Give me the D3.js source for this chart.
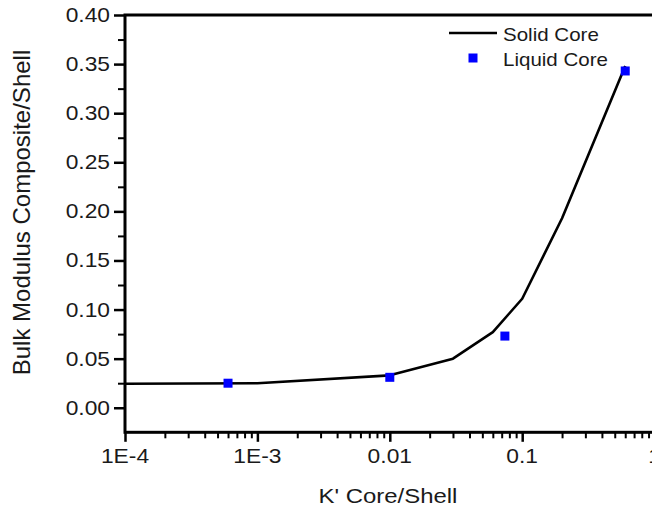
<!DOCTYPE html>
<html>
<head>
<meta charset="utf-8">
<script src="https://cdn.jsdelivr.net/npm/d3@7"></script>
<style>
  html, body { margin: 0; padding: 0; background: #fff; }
  svg { display: block; }
  text { font-family: "Liberation Sans", Arial, sans-serif; fill: #1a1a1a; }
</style>
</head>
<body>
<svg id="chart" width="652" height="510"></svg>
<script>
// Solid core: composite/shell bulk modulus vs core/shell modulus ratio
const solidK = [1e-4, 1e-3, 0.01, 0.03, 0.06, 0.1, 0.2, 0.6];
const solidBulk = [0.0245, 0.025, 0.033, 0.050, 0.077, 0.111, 0.193, 0.348];

// Liquid core points
const liquidK = [6e-4, 0.01, 0.074, 0.6];
const liquidBulk = [0.025, 0.031, 0.073, 0.343];

// Axis ticks
const xMajorTicks = [1e-4, 1e-3, 0.01, 0.1, 1];
const xTickLabels = ["1E-4", "1E-3", "0.01", "0.1", "1"];
const yMajorTicks = [0, 0.05, 0.10, 0.15, 0.20, 0.25, 0.30, 0.35, 0.40];
const yMinorTicks = [0.025, 0.075, 0.125, 0.175, 0.225, 0.275, 0.325, 0.375];

const seriesNames = ["Solid Core", "Liquid Core"];
const xTitle = "K' Core/Shell";
const yTitle = "Bulk Modulus Composite/Shell";

const svg = d3.select("#chart");
const plotLeft = 125, plotTop = 15, plotBottom = 432.3, plotRight = 654.6;

const x = d3.scaleLog().domain([1e-4, 1]).range([plotLeft, plotRight]);
const y = d3.scaleLinear().domain([-0.025, 0.40]).range([plotBottom, plotTop]);

const stretch = 1.14; // horizontal text width factor

// minor x ticks: 2..9 of each decade
const xMinorTicks = [];
for (let d = -4; d < 0; d++) {
  for (let m = 2; m <= 9; m++) xMinorTicks.push(m * Math.pow(10, d));
}

// --- X axis ---
svg.append("g").attr("transform", `translate(0,${plotBottom})`)
  .call(d3.axisBottom(x).tickValues(xMinorTicks).tickFormat("").tickSize(6).tickSizeOuter(0))
  .call(g => g.select(".domain").remove())
  .call(g => g.selectAll("line").attr("stroke", "#000").attr("stroke-width", 2));
svg.append("g").attr("transform", `translate(0,${plotBottom})`)
  .call(d3.axisBottom(x).tickValues(xMajorTicks).tickFormat("").tickSize(9.5).tickSizeOuter(0))
  .call(g => g.select(".domain").remove())
  .call(g => g.selectAll("line").attr("stroke", "#000").attr("stroke-width", 2.5));

svg.append("g").selectAll("text")
  .data(xMajorTicks)
  .join("text")
  .attr("transform", d => `translate(${x(d)},463) scale(${stretch},1)`)
  .attr("text-anchor", "middle")
  .attr("font-size", 20)
  .text((d, i) => xTickLabels[i]);

// --- Y axis ---
svg.append("g").attr("transform", `translate(${plotLeft},0)`)
  .call(d3.axisLeft(y).tickValues(yMinorTicks).tickFormat("").tickSize(7).tickSizeOuter(0))
  .call(g => g.select(".domain").remove())
  .call(g => g.selectAll("line").attr("stroke", "#000").attr("stroke-width", 2));
svg.append("g").attr("transform", `translate(${plotLeft},0)`)
  .call(d3.axisLeft(y).tickValues(yMajorTicks).tickFormat("").tickSize(11).tickSizeOuter(0))
  .call(g => g.select(".domain").remove())
  .call(g => g.selectAll("line").attr("stroke", "#000").attr("stroke-width", 2.5));

svg.append("g").selectAll("text")
  .data(yMajorTicks)
  .join("text")
  .attr("transform", d => `translate(110,${y(d) + 7}) scale(${stretch},1)`)
  .attr("text-anchor", "end")
  .attr("font-size", 20)
  .text(d => d3.format(".2f")(d));

// --- Frame ---
svg.append("rect")
  .attr("x", plotLeft).attr("y", plotTop)
  .attr("width", plotRight - plotLeft).attr("height", plotBottom - plotTop)
  .attr("fill", "none").attr("stroke", "#000").attr("stroke-width", 3);

// --- Solid core curve ---
const solidData = solidK.map((k, i) => [k, solidBulk[i]]);
svg.append("path")
  .datum(solidData)
  .attr("fill", "none")
  .attr("stroke", "#000")
  .attr("stroke-width", 2.6)
  .attr("stroke-linejoin", "round")
  .attr("d", d3.line().x(d => x(d[0])).y(d => y(d[1])));

// --- Liquid core points ---
const sq = 9;
svg.append("g").selectAll("rect")
  .data(liquidK.map((k, i) => [k, liquidBulk[i]]))
  .join("rect")
  .attr("x", d => x(d[0]) - sq / 2)
  .attr("y", d => y(d[1]) - sq / 2)
  .attr("width", sq).attr("height", sq)
  .attr("fill", "#0000ff");

// --- Legend ---
const legend = svg.append("g");
legend.append("line")
  .attr("x1", 449).attr("x2", 497).attr("y1", 33).attr("y2", 33)
  .attr("stroke", "#000").attr("stroke-width", 2.6);
legend.append("rect")
  .attr("x", 473 - sq / 2).attr("y", 58 - sq / 2)
  .attr("width", sq).attr("height", sq).attr("fill", "#0000ff");
legend.selectAll("text")
  .data(seriesNames)
  .join("text")
  .attr("transform", (d, i) => `translate(503,${i === 0 ? 41 : 65.5}) scale(${stretch},1)`)
  .attr("font-size", 18)
  .text(d => d);

// --- Axis titles ---
svg.append("text")
  .attr("transform", `translate(388,503) scale(${stretch},1)`)
  .attr("text-anchor", "middle")
  .attr("font-size", 21)
  .text(xTitle);

svg.append("text")
  .attr("transform", "translate(30,212.5) rotate(-90)")
  .attr("text-anchor", "middle")
  .attr("font-size", 24)
  .text(yTitle);
</script>
</body>
</html>
